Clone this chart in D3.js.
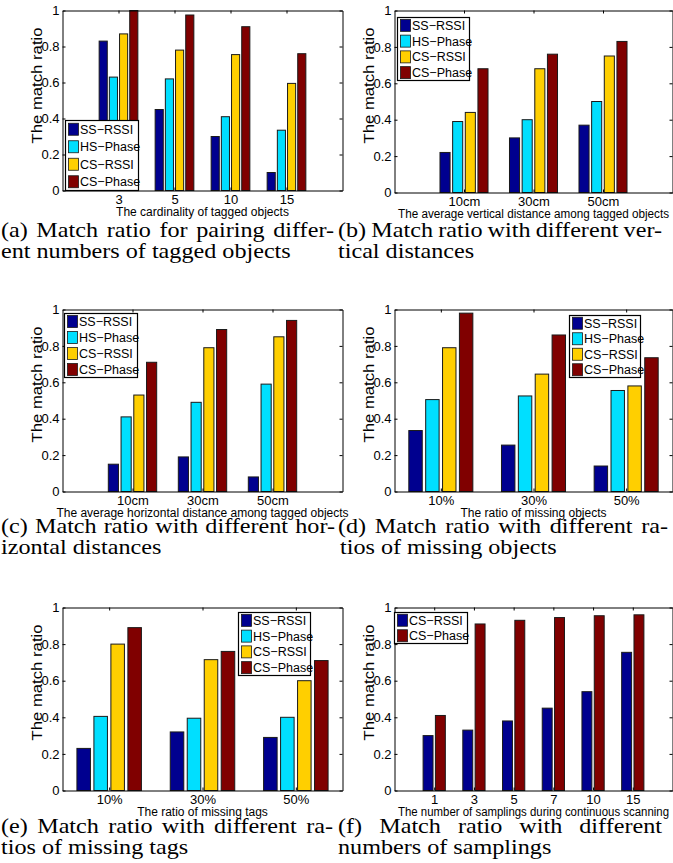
<!DOCTYPE html>
<html>
<head>
<meta charset="utf-8">
<script src="https://cdn.jsdelivr.net/npm/d3@7"></script>
<style>
  body { margin: 0; background: #fff; }
  svg { display: block; }
  .axis text { font-family: "Liberation Sans", Arial, sans-serif; fill: #000; }
  .lbl { font-family: "Liberation Sans", Arial, sans-serif; fill: #000; }
  .caption text { font-family: "Liberation Serif", "Times New Roman", serif; font-size: 21px; fill: #000; }
</style>
</head>
<body>
<svg id="fig" width="673" height="863"></svg>
<script>
// series names and colours
const series4 = ['SS\u2212RSSI', 'HS\u2212Phase', 'CS\u2212RSSI', 'CS\u2212Phase'];
const series2 = ['CS\u2212RSSI', 'CS\u2212Phase'];
const colors4 = ['#00008F', '#00DFFF', '#FFCF00', '#800000'];
const colors2 = ['#00008F', '#800000'];
const yTicks = [0, 0.2, 0.4, 0.6, 0.8, 1];

// (a) cardinality
const catsA = ['3', '5', '10', '15'];
const ssRssiA = [0.83, 0.45, 0.30, 0.10];
const hsPhaseA = [0.63, 0.62, 0.41, 0.335];
const csRssiA = [0.87, 0.78, 0.755, 0.595];
const csPhaseA = [1.00, 0.975, 0.91, 0.76];

// (b) vertical distance
const catsB = ['10cm', '30cm', '50cm'];
const ssRssiB = [0.22, 0.30, 0.37];
const hsPhaseB = [0.39, 0.40, 0.50];
const csRssiB = [0.44, 0.68, 0.75];
const csPhaseB = [0.68, 0.76, 0.83];

// (c) horizontal distance
const catsC = ['10cm', '30cm', '50cm'];
const ssRssiC = [0.15, 0.19, 0.08];
const hsPhaseC = [0.41, 0.49, 0.59];
const csRssiC = [0.53, 0.79, 0.85];
const csPhaseC = [0.71, 0.89, 0.94];

// (d) missing objects
const catsD = ['10%', '30%', '50%'];
const ssRssiD = [0.335, 0.255, 0.14];
const hsPhaseD = [0.505, 0.525, 0.555];
const csRssiD = [0.79, 0.645, 0.58];
const csPhaseD = [0.98, 0.86, 0.735];

// (e) missing tags
const catsE = ['10%', '30%', '50%'];
const ssRssiE = [0.23, 0.32, 0.29];
const hsPhaseE = [0.405, 0.395, 0.40];
const csRssiE = [0.80, 0.715, 0.60];
const csPhaseE = [0.89, 0.76, 0.71];

// (f) samplings
const catsF = ['1', '3', '5', '7', '10', '15'];
const csRssiF = [0.30, 0.33, 0.38, 0.45, 0.54, 0.755];
const csPhaseF = [0.41, 0.91, 0.93, 0.945, 0.955, 0.96];

const panels = [
  { cats: catsA, series: [ssRssiA, hsPhaseA, csRssiA, csPhaseA], names: series4, colors: colors4,
    box: [62.5, 342.5, 10.5, 190.5], xlim: [0, 5], xLabel: 'The cardinality of tagged objects',
    legend: [65.5, 120.5, 73, 70],
    caption: [
      { t: '(a) Match ratio for pairing differ-', x: 1, y: 237, right: 334 },
      { t: 'ent numbers of tagged objects', x: 1, y: 258 }
    ] },
  { cats: catsB, series: [ssRssiB, hsPhaseB, csRssiB, csPhaseB], names: series4, colors: colors4,
    box: [394.5, 672.5, 10.5, 192.5], xlim: [0, 4], xLabel: 'The average vertical distance among tagged objects',
    legend: [397.5, 17.5, 72, 63],
    caption: [
      { t: '(b) Match ratio with different ver-', x: 338, y: 237, right: 662 },
      { t: 'tical distances', x: 338, y: 258 }
    ] },
  { cats: catsC, series: [ssRssiC, hsPhaseC, csRssiC, csPhaseC], names: series4, colors: colors4,
    box: [62.5, 342.5, 309.5, 491.5], xlim: [0, 4], xLabel: 'The average horizontal distance among tagged objects',
    legend: [64.5, 313.5, 73, 64],
    caption: [
      { t: '(c) Match ratio with different hor-', x: 1, y: 533, right: 335 },
      { t: 'izontal distances', x: 1, y: 554 }
    ] },
  { cats: catsD, series: [ssRssiD, hsPhaseD, csRssiD, csPhaseD], names: series4, colors: colors4,
    box: [394.5, 672.5, 309.5, 491.5], xlim: [0.5, 3.5], xLabel: 'The ratio of missing objects',
    legend: [569.5, 315.5, 71, 62],
    caption: [
      { t: '(d) Match ratio with different ra-', x: 338, y: 533, right: 668 },
      { t: 'tios of missing objects', x: 340, y: 554 }
    ] },
  { cats: catsE, series: [ssRssiE, hsPhaseE, csRssiE, csPhaseE], names: series4, colors: colors4,
    box: [62.5, 342.5, 607.5, 790.5], xlim: [0.5, 3.5], xLabel: 'The ratio of missing tags',
    legend: [238.5, 612.5, 72, 63],
    caption: [
      { t: '(e) Match ratio with different ra-', x: 1, y: 833, right: 333 },
      { t: 'tios of missing tags', x: 1, y: 854 }
    ] },
  { cats: catsF, series: [csRssiF, csPhaseF], names: series2, colors: colors2,
    box: [394.5, 672.5, 607.5, 790.5], xlim: [0, 7], xLabel: 'The number of samplings during continuous scanning',
    legend: [394.5, 612.5, 73, 31],
    caption: [
      { t: '(f) Match ratio with different', x: 338, y: 833, right: 662 },
      { t: 'numbers of samplings', x: 338, y: 854 }
    ] }
];

const svg = d3.select('#fig');
const pageW = 673;
const captionStretch = 1.15;

panels.forEach(p => {
  const [x0, x1, y0, y1] = p.box;
  const n = p.series.length;
  const x = d3.scaleLinear().domain(p.xlim).range([x0, x1]);
  const y = d3.scaleLinear().domain([0, 1]).range([y1, y0]);
  // grouped bar layout, like matlab's bar()
  const pitch = n === 4 ? 0.182 : 0.31;
  const bw = n === 4 ? 0.145 : 0.25;
  const tickIdx = p.cats.map((c, i) => i + 1);

  const g = svg.append('g');

  // bars
  p.series.forEach((vals, s) => {
    g.append('g').selectAll('rect')
      .data(vals)
      .enter().append('rect')
      .attr('x', (d, i) => x(i + 1 + (s - (n - 1) / 2) * pitch - bw / 2))
      .attr('width', x(bw) - x(0))
      .attr('y', d => y(d))
      .attr('height', d => y(0) - y(d))
      .attr('fill', p.colors[s])
      .attr('stroke', '#1a1a1a')
      .attr('stroke-width', 1);
  });

  // axes (ticks point inward, box on)
  const left = g.append('g').attr('class', 'axis').attr('transform', `translate(${x0},0)`)
    .call(d3.axisLeft(y).tickValues(yTicks).tickFormat(d3.format('~g')).tickSizeInner(-3).tickSizeOuter(0).tickPadding(3));
  left.selectAll('text').attr('font-size', 13);
  g.append('g').attr('transform', `translate(${x1},0)`)
    .call(d3.axisRight(y).tickValues(yTicks).tickFormat('').tickSizeInner(-3).tickSizeOuter(0));
  const bottom = g.append('g').attr('class', 'axis').attr('transform', `translate(0,${y1})`)
    .call(d3.axisBottom(x).tickValues(tickIdx).tickFormat(i => p.cats[i - 1]).tickSizeInner(-3).tickSizeOuter(0).tickPadding(4.5));
  bottom.selectAll('text').attr('font-size', 13);
  g.append('g').attr('transform', `translate(0,${y0})`)
    .call(d3.axisTop(x).tickValues(tickIdx).tickFormat('').tickSizeInner(-3).tickSizeOuter(0));
  g.selectAll('.domain, .tick line').attr('stroke', '#000');

  // axis titles
  const xl = g.append('text').attr('class', 'lbl')
    .attr('x', (x0 + x1) / 2).attr('y', y1 + 25)
    .attr('text-anchor', 'middle').attr('font-size', 12)
    .text(p.xLabel);
  // squeeze a title that would run past the page edge
  const room = 2 * (pageW - (x0 + x1) / 2) - 8;
  if (xl.node().getComputedTextLength() > room) {
    xl.attr('textLength', room).attr('lengthAdjust', 'spacingAndGlyphs');
  }
  g.append('text').attr('class', 'lbl')
    .attr('transform', `translate(${x0 - 20.5},${y0 + 75}) rotate(-90)`)
    .attr('text-anchor', 'middle').attr('font-size', 14)
    .attr('textLength', 116).attr('lengthAdjust', 'spacingAndGlyphs')
    .text('The match ratio');

  // legend
  const [lx, ly, lw, lh] = p.legend;
  const leg = g.append('g');
  leg.append('rect').attr('x', lx).attr('y', ly).attr('width', lw).attr('height', lh)
    .attr('fill', '#fff').attr('stroke', '#000').attr('stroke-width', 1.2);
  const step = lh / n;
  p.names.forEach((name, s) => {
    const cy = ly + step * (s + 0.5);
    leg.append('rect').attr('x', lx + 3).attr('y', cy - 6).attr('width', 10).attr('height', 12)
      .attr('fill', p.colors[s]).attr('stroke', '#1a1a1a').attr('stroke-width', 0.8);
    leg.append('text').attr('class', 'lbl')
      .attr('x', lx + 14.5).attr('y', cy).attr('dy', '0.36em')
      .attr('font-size', 12.5)
      .text(name);
  });

  // caption, justified like the paper
  p.caption.forEach(l => {
    const words = l.t.split(' ');
    const cg = svg.append('g').attr('class', 'caption');
    const nodes = words.map(w => cg.append('text').attr('y', l.y).text(w));
    const widths = nodes.map(nd => nd.node().getComputedTextLength() * captionStretch);
    nodes.forEach((nd, i) => nd.attr('textLength', widths[i]).attr('lengthAdjust', 'spacingAndGlyphs'));
    const gap = l.right ? (l.right - l.x - d3.sum(widths)) / (words.length - 1) : 21 * 0.25 * captionStretch;
    let cx = l.x;
    nodes.forEach((nd, i) => { nd.attr('x', cx); cx += widths[i] + gap; });
  });
});
</script>
</body>
</html>
